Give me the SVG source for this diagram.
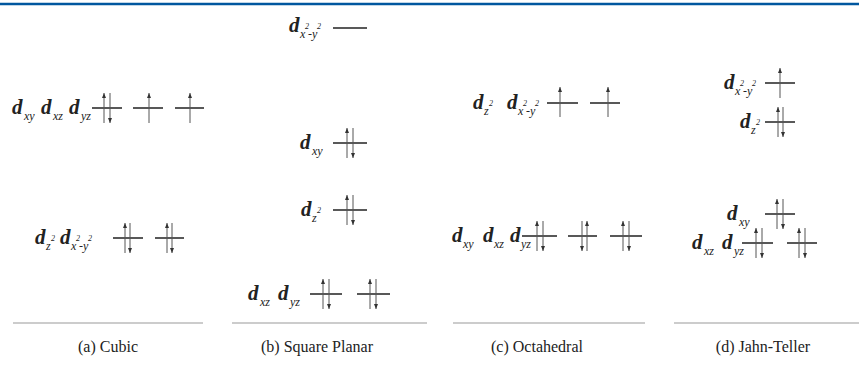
<svg xmlns="http://www.w3.org/2000/svg" width="859" height="380" viewBox="0 0 859 380">
<defs>
<style>
text{font-family:'Liberation Serif','Times New Roman',serif;fill:#222}
.d{font-weight:bold;font-style:italic;font-size:21px}
.s{font-style:italic;font-size:12px}
.p{font-style:italic;font-size:8px}
.cap{font-size:16px;text-anchor:middle}
.lv{stroke:#222;stroke-width:1.5;fill:none}
.el{stroke:#555;stroke-width:1;fill:none}
.hd{fill:#333}
</style>
</defs>
<line x1="0" y1="4" x2="859" y2="4" stroke="#00579f" stroke-width="2.5"/>
<g id="a-t2">
<text class="d" x="12" y="114">d</text><text class="s" x="24" y="120">xy</text>
<text class="d" x="41" y="114">d</text><text class="s" x="53" y="120">xz</text>
<text class="d" x="69" y="114">d</text><text class="s" x="81" y="120">yz</text>
<path class="lv" d="M92,108H122M133,108H163M175,108H204"/>
</g>
<g id="a-e">
<text class="d" x="35" y="244">d</text><text class="s" x="46" y="250">z</text><text class="p" x="51" y="241">2</text>
<text class="d" x="60" y="244">d</text><text class="s" x="71" y="250">x</text><text class="p" x="76" y="241">2</text><text class="s" x="79" y="250">-y</text><text class="p" x="88" y="241">2</text>
<path class="lv" d="M113,238H143M155,238H184"/>
</g>
<g id="b-x2y2">
<text class="d" x="289" y="32">d</text><text class="s" x="300" y="38">x</text><text class="p" x="305" y="29">2</text><text class="s" x="308" y="38">-y</text><text class="p" x="317" y="29">2</text>
<path class="lv" d="M333,28H367"/>
</g>
<g id="b-xy">
<text class="d" x="300" y="149">d</text><text class="s" x="312" y="155">xy</text>
<path class="lv" d="M333,143H367"/>
</g>
<g id="b-z2">
<text class="d" x="301" y="216">d</text><text class="s" x="312" y="222">z</text><text class="p" x="317" y="213">2</text>
<path class="lv" d="M333,210H367"/>
</g>
<g id="b-xzyz">
<text class="d" x="248" y="300">d</text><text class="s" x="260" y="306">xz</text>
<text class="d" x="278" y="300">d</text><text class="s" x="290" y="306">yz</text>
<path class="lv" d="M310,294H342M357,294H390"/>
</g>
<g id="c-eg">
<text class="d" x="473" y="109">d</text><text class="s" x="484" y="115">z</text><text class="p" x="489" y="106">2</text>
<text class="d" x="507" y="109">d</text><text class="s" x="518" y="115">x</text><text class="p" x="523" y="106">2</text><text class="s" x="526" y="115">-y</text><text class="p" x="535" y="106">2</text>
<path class="lv" d="M547,103H578M590,103H620"/>
</g>
<g id="c-t2g">
<text class="d" x="452" y="242">d</text><text class="s" x="463" y="248">xy</text>
<text class="d" x="483" y="242">d</text><text class="s" x="494" y="248">xz</text>
<text class="d" x="510" y="242">d</text><text class="s" x="521" y="248">yz</text>
<path class="lv" d="M522,236H557M568,236H597M610,236H642"/>
</g>
<g id="d-x2y2">
<text class="d" x="724" y="89">d</text><text class="s" x="735" y="95">x</text><text class="p" x="740" y="86">2</text><text class="s" x="743" y="95">-y</text><text class="p" x="752" y="86">2</text>
<path class="lv" d="M765,83H795"/>
</g>
<g id="d-z2">
<text class="d" x="740" y="128">d</text><text class="s" x="751" y="134">z</text><text class="p" x="756" y="125">2</text>
<path class="lv" d="M765,122H795"/>
</g>
<g id="d-xy">
<text class="d" x="727" y="220">d</text><text class="s" x="739" y="226">xy</text>
<path class="lv" d="M765,214H795"/>
</g>
<g id="d-xzyz">
<text class="d" x="692" y="249">d</text><text class="s" x="704" y="255">xz</text>
<text class="d" x="722" y="249">d</text><text class="s" x="734" y="255">yz</text>
<path class="lv" d="M742,243H773M787,243H817"/>
</g>
<g id="electrons">
<path class="el" d="M104,123V93M110,93V123M149,123V93M190,123V93M125,253V223M130,223V253M167,253V223M172,223V253M347,158V128M353,128V158M347,225V195M353,195V225M323,309V279M329,279V309M370,309V279M376,279V309M560,117V87M608,117V87M537,251V221M543,221V251M582,221V251M587,251V221M623,251V221M629,221V251M780,98V68M778,137V107M783,107V137M777,229V199M783,199V229M756,258V228M762,228V258M799,258V228M805,228V258"/>
<path class="hd" d="M102,98L104,93L106,98ZM147,98L149,93L151,98ZM188,98L190,93L192,98ZM123,228L125,223L127,228ZM165,228L167,223L169,228ZM345,133L347,128L349,133ZM345,200L347,195L349,200ZM321,284L323,279L325,284ZM368,284L370,279L372,284ZM558,92L560,87L562,92ZM606,92L608,87L610,92ZM535,226L537,221L539,226ZM585,226L587,221L589,226ZM621,226L623,221L625,226ZM778,73L780,68L782,73ZM776,112L778,107L780,112ZM775,204L777,199L779,204ZM754,233L756,228L758,233ZM797,233L799,228L801,233ZM108,118L110,123L112,118ZM128,248L130,253L132,248ZM170,248L172,253L174,248ZM351,153L353,158L355,153ZM351,220L353,225L355,220ZM327,304L329,309L331,304ZM374,304L376,309L378,304ZM541,246L543,251L545,246ZM580,246L582,251L584,246ZM627,246L629,251L631,246ZM781,132L783,137L785,132ZM781,224L783,229L785,224ZM760,253L762,258L764,253ZM803,253L805,258L807,253Z"/>
</g>
<g id="captions">
<path d="M13,323H203M232,323H427M453,323H645M674,323H859" stroke="#999" stroke-width="1.2"/>
<text class="cap" x="108" y="352">(a) Cubic</text>
<text class="cap" x="317" y="352">(b) Square Planar</text>
<text class="cap" x="537" y="352">(c) Octahedral</text>
<text class="cap" x="763" y="352">(d) Jahn-Teller</text>
</g>
</svg>
